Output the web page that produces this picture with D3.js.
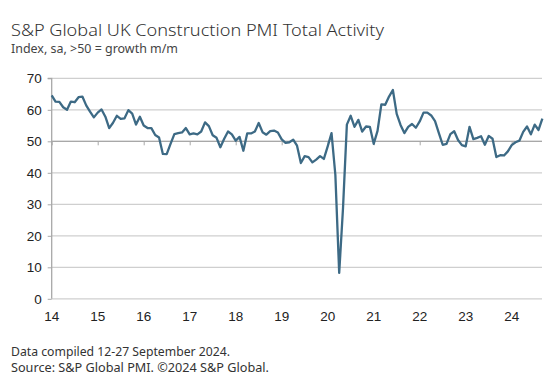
<!DOCTYPE html>
<html><head><meta charset="utf-8">
<script src="https://cdn.jsdelivr.net/npm/d3@7"></script>
<style>
html,body{margin:0;padding:0;background:#fff;}
svg{display:block;}
</style></head>
<body>
<svg id="chart" width="560" height="376"></svg>
<script>
const title = "S&P Global UK Construction PMI Total Activity";
const subtitle = "Index, sa, >50 = growth m/m";
const footer1 = "Data compiled 12-27 September 2024.";
const footer2 = "Source: S&P Global PMI. \u00A92024 S&P Global.";
const startYear = 2014;
const yearLabels = ["14","15","16","17","18","19","20","21","22","23","24"];
const yTicks = [0,10,20,30,40,50,60,70];
// Monthly index values Jan 2014 - Sep 2024
const v2014 = [64.6,62.6,62.5,60.8,60.0,62.6,62.4,64.0,64.2,61.4,59.4,57.6];
const v2015 = [59.1,60.1,57.8,54.2,55.9,58.1,57.1,57.3,59.9,58.8,55.3,57.8];
const v2016 = [55.0,54.2,54.2,52.0,51.2,46.0,45.9,49.2,52.3,52.6,52.8,54.2];
const v2017 = [52.2,52.5,52.2,53.1,56.0,54.8,51.9,51.1,48.1,50.8,53.1,52.2];
const v2018 = [50.2,51.4,47.0,52.5,52.5,53.1,55.8,52.9,52.1,53.2,53.4,52.8];
const v2019 = [50.6,49.5,49.7,50.5,48.6,43.1,45.3,45.0,43.3,44.2,45.3,44.4];
const v2020 = [48.4,52.6,39.3,8.2,28.9,55.3,58.1,54.6,56.8,53.1,54.7,54.6];
const v2021 = [49.2,53.3,61.7,61.6,64.2,66.3,58.7,55.2,52.6,54.6,55.5,54.3];
const v2022 = [56.3,59.1,59.1,58.2,56.4,52.6,48.9,49.2,52.3,53.2,50.4,48.8];
const v2023 = [48.4,54.6,50.7,51.1,51.6,48.9,51.7,50.8,45.0,45.6,45.5,46.8];
const v2024 = [48.8,49.7,50.2,53.0,54.7,52.2,55.3,53.6,57.2];
const values = [].concat(v2014,v2015,v2016,v2017,v2018,v2019,v2020,v2021,v2022,v2023,v2024);

const svg = d3.select("#chart");
const x = d3.scaleLinear().domain([0,120]).range([51.7,511.7]);
const y = d3.scaleLinear().domain([0,70]).range([298.8,78.3]);
const xEnd = 542;
const font = "'Liberation Sans', Arial, sans-serif";
const tfont = "'Noto Sans', sans-serif";

// title
svg.append("text").attr("x",11).attr("y",36).text(title)
  .attr("font-family",tfont).attr("font-size",17).attr("font-weight",300).attr("fill","#333")
  .attr("textLength",373).attr("lengthAdjust","spacingAndGlyphs");
svg.append("text").attr("x",11).attr("y",53).text(subtitle)
  .attr("font-family",tfont).attr("font-size",12.3).attr("fill","#444")
  .attr("textLength",167).attr("lengthAdjust","spacingAndGlyphs");

// gridlines
svg.append("g").selectAll("line").data(yTicks).join("line")
  .attr("x1",x(0)).attr("x2",xEnd).attr("y1",d=>y(d)).attr("y2",d=>y(d))
  .attr("stroke","#cfcfcf").attr("stroke-width",1.3);

// y axis
const yAxis = svg.append("g").attr("transform",`translate(${x(0)},0)`)
  .call(d3.axisLeft(y).tickValues(yTicks).tickSize(4).tickPadding(6));
yAxis.select(".domain").attr("stroke","#a8a8a8").attr("stroke-width",1.3).attr("d",`M-4,${y(70)}H0V${y(0)}`);
yAxis.selectAll(".tick line").attr("stroke","#a8a8a8");
yAxis.selectAll(".tick text").attr("font-family",font).attr("font-size",13.5).attr("fill","#222");

// x axis crossing at 50
const xAxis = svg.append("g").attr("transform",`translate(0,${y(50)})`)
  .call(d3.axisBottom(x).tickValues(d3.range(0,121,12)).tickSize(4).tickFormat(""));
xAxis.select(".domain").attr("stroke","#a8a8a8").attr("stroke-width",1.3).attr("d",`M${x(0)},0H${xEnd}`);
xAxis.selectAll(".tick line").attr("stroke","#a8a8a8");

// x labels at bottom
svg.append("g").selectAll("text").data(yearLabels).join("text")
  .attr("x",(d,i)=>x(i*12)).attr("y",321).attr("text-anchor","middle")
  .attr("font-family",font).attr("font-size",13.5).attr("fill","#222").text(d=>d);

// line
const line = d3.line().x((d,i)=>x(i)).y(d=>y(d));
svg.append("path").datum(values).attr("d",line).attr("fill","none")
  .attr("stroke","#3d6a85").attr("stroke-width",2.3).attr("stroke-linejoin","round");

// footer
svg.append("text").attr("x",11).attr("y",356).text(footer1)
  .attr("font-family",tfont).attr("font-size",12.3).attr("fill","#333")
  .attr("textLength",219).attr("lengthAdjust","spacingAndGlyphs");
svg.append("text").attr("x",11).attr("y",372).text(footer2)
  .attr("font-family",tfont).attr("font-size",12.3).attr("fill","#333")
  .attr("textLength",258).attr("lengthAdjust","spacingAndGlyphs");
</script>
</body></html>
